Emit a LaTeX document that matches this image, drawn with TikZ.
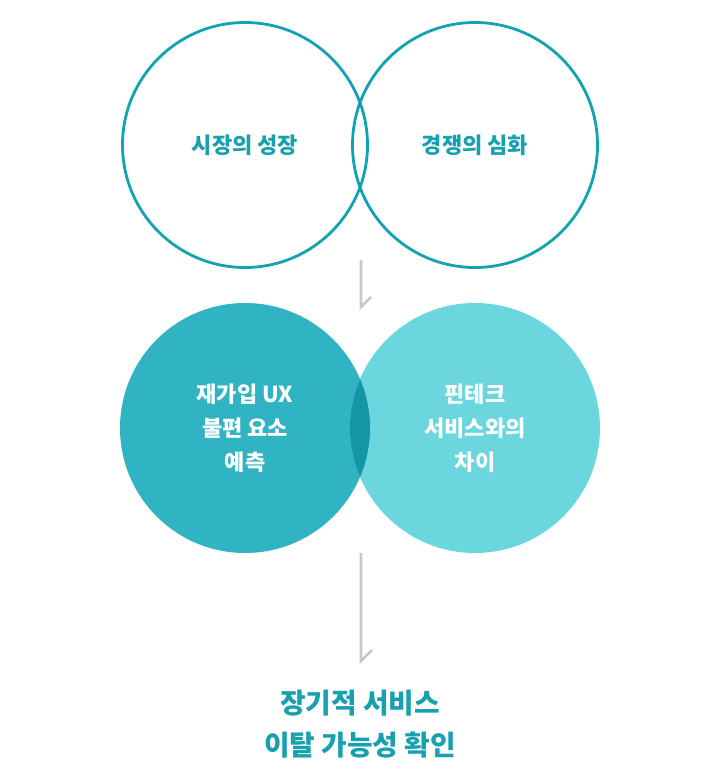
\documentclass[tikz,border=0pt]{standalone}
\usepackage{fontspec}
\setmainfont{Noto Sans CJK KR}
\definecolor{ring}{HTML}{12A3B2}
\definecolor{tealtext}{HTML}{17A0AE}
\definecolor{fillA}{HTML}{30B3C2}
\definecolor{fillB}{HTML}{6BD6DE}
\definecolor{fillAB}{HTML}{1496A4}
\definecolor{arrowgray}{HTML}{C8C8C8}
\tikzset{
  x=1pt, y=-1pt,
  ringbox/.style={circle, draw=ring, line width=2.8pt, minimum size=245pt, inner sep=0pt,
    font=\fontsize{22pt}{34pt}\selectfont\bfseries, text=tealtext, align=center},
  discA/.style={circle, fill=fillA, minimum size=250pt, inner sep=0pt},
  discB/.style={circle, fill=fillB, minimum size=250pt, inner sep=0pt},
  disclabel/.style={font=\fontsize{22pt}{34pt}\selectfont\bfseries, text=white, align=center},
  flowline/.style={draw=arrowgray, line width=2.6pt},
  result/.style={font=\fontsize{27.8pt}{42pt}\selectfont\bfseries, text=tealtext, align=center}
}
\begin{document}
\begin{tikzpicture}
\useasboundingbox (0,0) rectangle (720,784);
% top circles
\node[ringbox] (market) at (245,145) {시장의 성장};
\node[ringbox] (compete) at (475,145) {경쟁의 심화};
% bottom discs
\node[discA] (rejoin) at (245,428) {};
\node[discB] (fintech) at (475,428) {};
\begin{scope}
  \clip (245,428) circle (125);
  \fill[fillAB] (475,428) circle (125);
\end{scope}
\node[disclabel] (rejoinlbl) at (rejoin.center) {재가입 UX\\불편 요소\\예측};
\node[disclabel] (fintechlbl) at (fintech.center) {핀테크\\서비스와의\\차이};
% result
\node[result] (outcome) at (360,724) {장기적 서비스\\이탈 가능성 확인};
% connectors
\coordinate (a1s) at (361,260);
\coordinate (a1e) at (361,307);
\coordinate (a1t) at (371,297);
\coordinate (a2s) at (361,553);
\coordinate (a2e) at (361,661);
\coordinate (a2t) at (372,650);
\draw[flowline] (a1s) -- (a1e) -- (a1t);
\draw[flowline] (a2s) -- (a2e) -- (a2t);
\end{tikzpicture}
\end{document}
